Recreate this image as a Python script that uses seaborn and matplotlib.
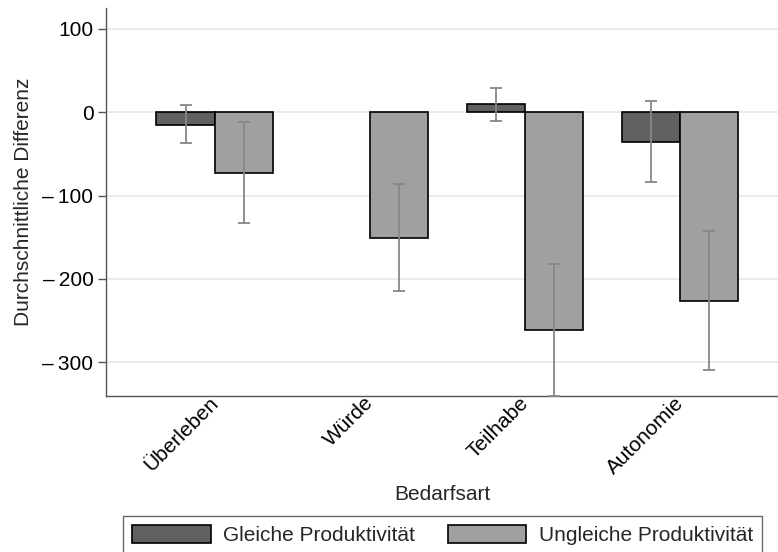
import numpy as np
import pandas as pd
import matplotlib
matplotlib.use('Agg')
import matplotlib.pyplot as plt
import matplotlib.transforms as mtransforms
from matplotlib.ticker import FuncFormatter
from matplotlib.patches import Patch
import seaborn as sns

sns.set_theme(style="white")
plt.rcParams['font.family'] = ['Liberation Sans', 'DejaVu Sans']

categories = ['Überleben', 'Würde', 'Teilhabe', 'Autonomie']
groups = ['Gleiche Produktivität', 'Ungleiche Produktivität']

# mean difference and confidence interval per group
gleiche_mean = [-15, np.nan, 9.5, -35.5]
gleiche_lo = [-37.5, np.nan, -10, -84]
gleiche_hi = [8.5, np.nan, 29, 14]

ungleiche_mean = [-72.5, -150.5, -261, -226]
ungleiche_lo = [-133, -214.5, -340, -309]
ungleiche_hi = [-11.5, -86, -182, -142.5]

colors = ['#606060', '#a0a0a0']

df = pd.DataFrame({
    'Bedarfsart': categories * 2,
    'group': [groups[0]] * 4 + [groups[1]] * 4,
    'value': gleiche_mean + ungleiche_mean,
    'lo': gleiche_lo + ungleiche_lo,
    'hi': gleiche_hi + ungleiche_hi,
})

fs = 15

fig = plt.figure(figsize=(7.78, 5.52), dpi=100)
ax = fig.add_axes([106 / 778, 1 - 396 / 552, 1 - 106 / 778, (396 - 8) / 552])

width = 0.75
sns.barplot(data=df.dropna(subset=['value']), x='Bedarfsart', y='value', hue='group',
            order=categories, hue_order=groups, palette=colors, width=width,
            errorbar=None, edgecolor='black', linewidth=1.2, saturation=1,
            legend=False, ax=ax, zorder=2)

# confidence intervals
for j, g in enumerate(groups):
    sub = df[df['group'] == g].reset_index(drop=True)
    off = (j - 0.5) * width / 2
    for i, row in sub.iterrows():
        if np.isnan(row['value']):
            continue
        x = categories.index(row['Bedarfsart']) + off
        ax.errorbar([x], [row['value']],
                    yerr=[[row['value'] - row['lo']], [row['hi'] - row['value']]],
                    fmt='none', ecolor='#878787', elinewidth=1.3, capsize=4.5,
                    capthick=1.3, zorder=3)

ax.set_xlim(-0.70, 3.63)
ax.set_ylim(-340.5, 125)
ax.set_yticks([100, 0, -100, -200, -300])
ax.yaxis.set_major_formatter(FuncFormatter(
    lambda v, p: f"\u2013\u2009{abs(v):.0f}" if v < 0 else f"{v:.0f}"))
ax.yaxis.grid(True, color='#e6e6e6', linewidth=1.1, zorder=0)
ax.set_axisbelow(True)

for s in ['top', 'right']:
    ax.spines[s].set_visible(False)
for s in ['left', 'bottom']:
    ax.spines[s].set_color('#555555')
    ax.spines[s].set_linewidth(1.0)

ax.tick_params(axis='y', left=True, length=6, width=1, color='#555555',
               labelsize=fs, labelcolor='black', pad=3)
ax.tick_params(axis='x', bottom=False, labelsize=fs, labelcolor='black', pad=0)
shift = mtransforms.ScaledTranslation(-6 / 100, 11 / 100, fig.dpi_scale_trans)
for lab in ax.get_xticklabels():
    lab.set_rotation(45)
    lab.set_ha('right')
    lab.set_va('top')
    lab.set_rotation_mode('anchor')
    lab.set_transform(lab.get_transform() + shift)

ax.set_xlabel('Bedarfsart', fontsize=fs, va='top')
ax.xaxis.set_label_coords(0.5, -(485 - 396) / 388)
ax.set_ylabel('Durchschnittliche Differenz', fontsize=fs, labelpad=7)

handles = [Patch(facecolor=c, edgecolor='black', linewidth=1.2) for c in colors]
leg = fig.legend(handles, groups, loc='upper left', bbox_to_anchor=(123 / 778, 1 - 516 / 552),
                 ncol=2, fontsize=fs, frameon=True, fancybox=False,
                 handlelength=3.75, handleheight=0.9, handletextpad=0.6,
                 columnspacing=1.6, borderaxespad=0, borderpad=0.45)
leg.get_frame().set_edgecolor('#444444')
leg.get_frame().set_linewidth(1.0)

fig.savefig('out.png', dpi=100)
